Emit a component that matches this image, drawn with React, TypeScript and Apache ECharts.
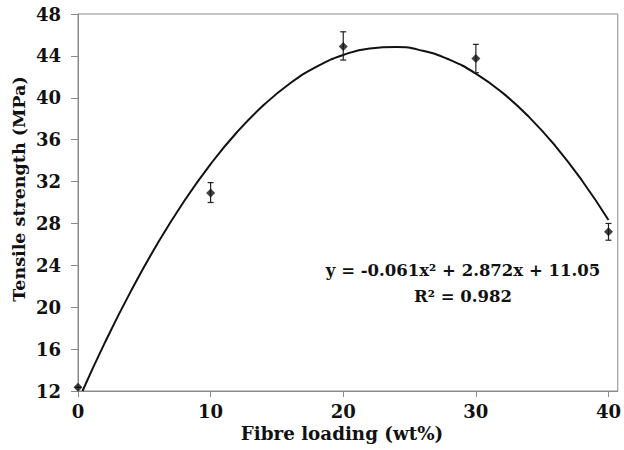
import React, { useEffect, useRef } from "react";
import * as echarts from "echarts";

const xTicks = [0, 10, 20, 30, 40];
const fibreLoading = [0, 10, 20, 30, 40];
const tensileStrength = [12.35, 30.9, 44.9, 43.75, 27.2];
const errLow = [12.35, 30.0, 43.6, 42.4, 26.4];
const errHigh = [12.35, 31.9, 46.3, 45.1, 28.0];

const curveX = [0.34, 2, 4, 6, 8, 10, 12, 14, 16, 18, 20, 22, 24, 26, 28, 30, 32, 34, 36, 38, 40];
const curveY = [12.0, 16.55, 21.56, 26.09, 30.12, 33.67, 36.73, 39.3, 41.39, 42.98, 44.09, 44.71, 44.84, 44.49, 43.64, 42.31, 40.49, 38.18, 35.39, 32.1, 28.33];

const equationText = "y = -0.061x² + 2.872x + 11.05";
const r2Text = "R² = 0.982";

const FONT = "DejaVu Serif";

export default function App() {
  const ref = useRef<HTMLDivElement>(null);
  useEffect(() => {
    if (!ref.current) return;
    document.body.style.margin = "0";
    const chart = echarts.init(ref.current, null, { renderer: "svg" });
    const gray = "#8a8a8a";
    const textStyle = (size: number) => ({
      fill: "#111",
      fontFamily: FONT,
      fontWeight: "bold" as const,
      fontSize: size,
      textAlign: "center" as const,
      textVerticalAlign: "middle" as const,
    });
    chart.setOption({
      animation: false,
      backgroundColor: "#fff",
      grid: {
        left: 78,
        right: 2,
        top: 14,
        bottom: 59,
        show: true,
        borderColor: gray,
        borderWidth: 1,
      },
      xAxis: {
        type: "value",
        min: 0,
        max: 40.7,
        interval: 10,
        splitLine: { show: false },
        axisLine: { show: true, lineStyle: { color: gray, width: 1 } },
        axisTick: { show: true, length: 6, lineStyle: { color: gray }, customValues: xTicks },
        axisLabel: {
          customValues: xTicks,
          margin: 11,
          color: "#111",
          fontFamily: FONT,
          fontWeight: "bold",
          fontSize: 18,
        },
      },
      yAxis: {
        type: "value",
        min: 12,
        max: 48,
        interval: 4,
        splitLine: { show: false },
        axisLine: { show: true, lineStyle: { color: gray, width: 1 } },
        axisTick: { show: true, length: 7, lineStyle: { color: gray } },
        axisLabel: {
          margin: 17,
          color: "#111",
          fontFamily: FONT,
          fontWeight: "bold",
          fontSize: 18,
        },
      },
      graphic: [
        {
          type: "text",
          x: 342,
          y: 433,
          style: { text: "Fibre loading (wt%)", ...textStyle(18.3) },
        },
        {
          type: "text",
          x: 19,
          y: 189,
          rotation: Math.PI / 2,
          style: { text: "Tensile strength (MPa)", ...textStyle(17.5) },
        },
        {
          type: "text",
          x: 463,
          y: 270,
          style: { text: equationText, ...textStyle(16.5) },
        },
        {
          type: "text",
          x: 463,
          y: 296,
          style: { text: r2Text, ...textStyle(16.5) },
        },
      ],
      series: [
        {
          type: "line",
          data: curveX.map((x, i) => [x, curveY[i]]),
          smooth: true,
          showSymbol: false,
          lineStyle: { color: "#111", width: 2 },
          z: 2,
        },
        {
          type: "custom",
          data: fibreLoading.map((x, i) => [x, errLow[i], errHigh[i]]),
          renderItem: (params: any, api: any) => {
            const x = api.value(0);
            const lo = api.coord([x, api.value(1)]);
            const hi = api.coord([x, api.value(2)]);
            const cap = 3;
            const style = { stroke: "#222", lineWidth: 1.2 };
            return {
              type: "group",
              children: [
                { type: "line", shape: { x1: lo[0], y1: lo[1], x2: hi[0], y2: hi[1] }, style },
                { type: "line", shape: { x1: lo[0] - cap, y1: lo[1], x2: lo[0] + cap, y2: lo[1] }, style },
                { type: "line", shape: { x1: hi[0] - cap, y1: hi[1], x2: hi[0] + cap, y2: hi[1] }, style },
              ],
            };
          },
          z: 3,
        },
        {
          type: "scatter",
          data: fibreLoading.map((x, i) => [x, tensileStrength[i]]),
          symbol: "diamond",
          symbolSize: 9,
          itemStyle: { color: "#111" },
          z: 4,
        },
      ],
    });
    return () => chart.dispose();
  }, []);
  return <div ref={ref} style={{ width: 624, height: 450, position: "absolute", left: 0, top: 0 }} />;
}
